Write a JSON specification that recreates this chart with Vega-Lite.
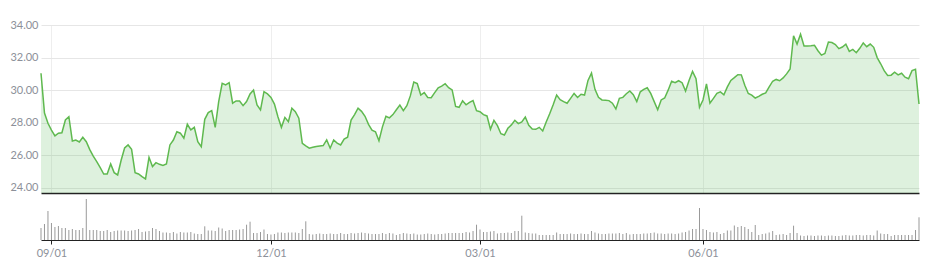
{
"$schema": "https://vega.github.io/schema/vega-lite/v6.json",
"background": "white",
"padding": {"left": 9, "top": 19, "right": 15, "bottom": 5},
"config": {"view": {"stroke": null}, "font": "Lato", "axis": {"labelFont": "Lato", "labelFontSize": 11, "labelColor": "#8c9099"}},
"spacing": 6,
"bounds": "flush",
"datasets": {"d": [
{"i":0,"p":31.04,"v":1.2},{"i":1,"p":28.6,"v":1.6},{"i":2,"p":27.97,"v":2.9},{"i":3,"p":27.55,"v":1.7},{"i":4,"p":27.2,"v":1.3},{"i":5,"p":27.36,"v":1.4},{"i":6,"p":27.39,"v":1.2},{"i":7,"p":28.17,"v":1.2},{"i":8,"p":28.37,"v":1.0},{"i":9,"p":26.88,"v":1.1},
{"i":10,"p":26.94,"v":1.0},{"i":11,"p":26.82,"v":1.0},{"i":12,"p":27.11,"v":1.2},{"i":13,"p":26.84,"v":4.1},{"i":14,"p":26.35,"v":1.0},{"i":15,"p":25.95,"v":1.0},{"i":16,"p":25.62,"v":1.0},{"i":17,"p":25.25,"v":0.9},{"i":18,"p":24.85,"v":0.9},{"i":19,"p":24.86,"v":1.0},
{"i":20,"p":25.47,"v":0.8},{"i":21,"p":24.94,"v":0.9},{"i":22,"p":24.8,"v":0.95},{"i":23,"p":25.7,"v":0.95},{"i":24,"p":26.45,"v":0.95},{"i":25,"p":26.64,"v":0.9},{"i":26,"p":26.37,"v":0.95},{"i":27,"p":24.94,"v":1.0},{"i":28,"p":24.86,"v":1.1},{"i":29,"p":24.69,"v":0.8},
{"i":30,"p":24.55,"v":0.85},{"i":31,"p":25.88,"v":0.9},{"i":32,"p":25.31,"v":1.2},{"i":33,"p":25.55,"v":1.1},{"i":34,"p":25.45,"v":0.9},{"i":35,"p":25.38,"v":0.75},{"i":36,"p":25.47,"v":0.75},{"i":37,"p":26.64,"v":0.7},{"i":38,"p":26.94,"v":0.8},{"i":39,"p":27.45,"v":0.65},
{"i":40,"p":27.36,"v":0.8},{"i":41,"p":27.05,"v":0.75},{"i":42,"p":27.91,"v":0.75},{"i":43,"p":27.56,"v":0.8},{"i":44,"p":27.72,"v":0.65},{"i":45,"p":26.84,"v":0.6},{"i":46,"p":26.53,"v":0.6},{"i":47,"p":28.21,"v":1.37},{"i":48,"p":28.62,"v":0.95},{"i":49,"p":28.74,"v":0.95},
{"i":50,"p":27.72,"v":0.9},{"i":51,"p":29.3,"v":1.25},{"i":52,"p":30.42,"v":1.15},{"i":53,"p":30.32,"v":0.9},{"i":54,"p":30.46,"v":1.0},{"i":55,"p":29.2,"v":1.0},{"i":56,"p":29.34,"v":1.0},{"i":57,"p":29.34,"v":1.05},{"i":58,"p":29.05,"v":1.1},{"i":59,"p":29.3,"v":1.53},
{"i":60,"p":29.77,"v":1.83},{"i":61,"p":30.01,"v":0.7},{"i":62,"p":29.09,"v":0.7},{"i":63,"p":28.79,"v":0.8},{"i":64,"p":29.91,"v":1.05},{"i":65,"p":29.77,"v":0.6},{"i":66,"p":29.56,"v":0.55},{"i":67,"p":29.15,"v":0.6},{"i":68,"p":28.37,"v":0.75},{"i":69,"p":27.72,"v":0.75},
{"i":70,"p":28.33,"v":0.7},{"i":71,"p":28.07,"v":0.75},{"i":72,"p":28.89,"v":0.75},{"i":73,"p":28.68,"v":0.75},{"i":74,"p":28.28,"v":0.7},{"i":75,"p":26.74,"v":1.1},{"i":76,"p":26.58,"v":1.87},{"i":77,"p":26.44,"v":0.6},{"i":78,"p":26.5,"v":0.55},{"i":79,"p":26.55,"v":0.6},
{"i":80,"p":26.58,"v":0.65},{"i":81,"p":26.6,"v":0.6},{"i":82,"p":26.95,"v":0.6},{"i":83,"p":26.44,"v":0.65},{"i":84,"p":26.94,"v":0.6},{"i":85,"p":26.75,"v":0.6},{"i":86,"p":26.64,"v":0.7},{"i":87,"p":27.0,"v":0.6},{"i":88,"p":27.11,"v":0.6},{"i":89,"p":28.17,"v":0.7},
{"i":90,"p":28.5,"v":0.65},{"i":91,"p":28.9,"v":0.7},{"i":92,"p":28.7,"v":0.75},{"i":93,"p":28.4,"v":0.7},{"i":94,"p":27.9,"v":0.65},{"i":95,"p":27.55,"v":0.6},{"i":96,"p":27.45,"v":0.6},{"i":97,"p":26.9,"v":0.6},{"i":98,"p":27.75,"v":0.7},{"i":99,"p":28.4,"v":0.6},
{"i":100,"p":28.3,"v":0.7},{"i":101,"p":28.5,"v":0.65},{"i":102,"p":28.8,"v":0.5},{"i":103,"p":29.09,"v":0.6},{"i":104,"p":28.74,"v":0.7},{"i":105,"p":29.05,"v":0.65},{"i":106,"p":29.65,"v":0.6},{"i":107,"p":30.5,"v":0.65},{"i":108,"p":30.4,"v":0.55},{"i":109,"p":29.7,"v":0.55},
{"i":110,"p":29.85,"v":0.6},{"i":111,"p":29.55,"v":0.65},{"i":112,"p":29.54,"v":0.6},{"i":113,"p":29.85,"v":0.55},{"i":114,"p":30.15,"v":0.6},{"i":115,"p":30.25,"v":0.6},{"i":116,"p":30.4,"v":0.65},{"i":117,"p":30.15,"v":0.7},{"i":118,"p":30.02,"v":0.7},{"i":119,"p":29.0,"v":0.7},
{"i":120,"p":28.95,"v":0.7},{"i":121,"p":29.35,"v":0.7},{"i":122,"p":29.1,"v":0.8},{"i":123,"p":29.25,"v":0.75},{"i":124,"p":29.36,"v":0.9},{"i":125,"p":28.74,"v":1.53},{"i":126,"p":28.68,"v":1.05},{"i":127,"p":28.5,"v":0.8},{"i":128,"p":28.42,"v":0.8},{"i":129,"p":27.6,"v":0.85},
{"i":130,"p":28.15,"v":0.9},{"i":131,"p":27.82,"v":0.65},{"i":132,"p":27.33,"v":0.7},{"i":133,"p":27.25,"v":0.7},{"i":134,"p":27.66,"v":0.75},{"i":135,"p":27.87,"v":0.7},{"i":136,"p":28.15,"v":0.9},{"i":137,"p":27.95,"v":0.9},{"i":138,"p":28.05,"v":2.43},{"i":139,"p":28.35,"v":0.75},
{"i":140,"p":27.85,"v":0.7},{"i":141,"p":27.62,"v":0.65},{"i":142,"p":27.6,"v":0.65},{"i":143,"p":27.72,"v":0.5},{"i":144,"p":27.5,"v":0.5},{"i":145,"p":28.05,"v":0.5},{"i":146,"p":28.55,"v":0.5},{"i":147,"p":29.1,"v":0.5},{"i":148,"p":29.7,"v":0.75},{"i":149,"p":29.42,"v":0.6},
{"i":150,"p":29.3,"v":0.6},{"i":151,"p":29.2,"v":0.6},{"i":152,"p":29.5,"v":0.65},{"i":153,"p":29.8,"v":0.6},{"i":154,"p":29.55,"v":0.6},{"i":155,"p":29.75,"v":0.65},{"i":156,"p":29.7,"v":0.6},{"i":157,"p":30.6,"v":0.6},{"i":158,"p":31.05,"v":0.9},{"i":159,"p":30.05,"v":0.75},
{"i":160,"p":29.56,"v":0.65},{"i":161,"p":29.4,"v":0.6},{"i":162,"p":29.38,"v":0.6},{"i":163,"p":29.36,"v":0.65},{"i":164,"p":29.2,"v":0.65},{"i":165,"p":28.85,"v":0.65},{"i":166,"p":29.5,"v":0.7},{"i":167,"p":29.56,"v":0.6},{"i":168,"p":29.78,"v":0.7},{"i":169,"p":29.95,"v":0.55},
{"i":170,"p":29.72,"v":0.6},{"i":171,"p":29.3,"v":0.6},{"i":172,"p":29.9,"v":0.6},{"i":173,"p":30.05,"v":0.65},{"i":174,"p":30.15,"v":0.65},{"i":175,"p":29.8,"v":0.7},{"i":176,"p":29.3,"v":0.75},{"i":177,"p":28.8,"v":0.65},{"i":178,"p":29.4,"v":0.65},{"i":179,"p":29.52,"v":0.6},
{"i":180,"p":30.0,"v":0.65},{"i":181,"p":30.55,"v":0.65},{"i":182,"p":30.46,"v":0.6},{"i":183,"p":30.58,"v":0.65},{"i":184,"p":30.46,"v":0.75},{"i":185,"p":29.95,"v":0.8},{"i":186,"p":30.6,"v":0.95},{"i":187,"p":31.15,"v":1.1},{"i":188,"p":30.7,"v":1.1},{"i":189,"p":28.95,"v":3.2},
{"i":190,"p":29.4,"v":1.1},{"i":191,"p":30.38,"v":1.0},{"i":192,"p":29.2,"v":0.8},{"i":193,"p":29.5,"v":0.75},{"i":194,"p":29.8,"v":0.8},{"i":195,"p":29.9,"v":0.6},{"i":196,"p":29.72,"v":0.7},{"i":197,"p":30.2,"v":0.95},{"i":198,"p":30.6,"v":0.95},{"i":199,"p":30.77,"v":1.45},
{"i":200,"p":30.95,"v":1.3},{"i":201,"p":30.94,"v":1.4},{"i":202,"p":30.3,"v":1.3},{"i":203,"p":29.8,"v":1.1},{"i":204,"p":29.7,"v":0.8},{"i":205,"p":29.52,"v":1.5},{"i":206,"p":29.62,"v":0.5},{"i":207,"p":29.75,"v":0.6},{"i":208,"p":29.83,"v":0.65},{"i":209,"p":30.2,"v":0.75},
{"i":210,"p":30.55,"v":0.9},{"i":211,"p":30.66,"v":0.5},{"i":212,"p":30.58,"v":0.55},{"i":213,"p":30.75,"v":0.6},{"i":214,"p":31.0,"v":0.5},{"i":215,"p":31.3,"v":0.7},{"i":216,"p":33.34,"v":1.43},{"i":217,"p":32.83,"v":0.7},{"i":218,"p":33.43,"v":0.45},{"i":219,"p":32.71,"v":0.4},
{"i":220,"p":32.71,"v":0.45},{"i":221,"p":32.72,"v":0.45},{"i":222,"p":32.75,"v":0.4},{"i":223,"p":32.42,"v":0.45},{"i":224,"p":32.15,"v":0.45},{"i":225,"p":32.25,"v":0.4},{"i":226,"p":32.95,"v":0.45},{"i":227,"p":32.92,"v":0.45},{"i":228,"p":32.8,"v":0.4},{"i":229,"p":32.55,"v":0.4},
{"i":230,"p":32.65,"v":0.45},{"i":231,"p":32.82,"v":0.5},{"i":232,"p":32.38,"v":0.45},{"i":233,"p":32.5,"v":0.45},{"i":234,"p":32.3,"v":0.5},{"i":235,"p":32.57,"v":0.5},{"i":236,"p":32.9,"v":0.45},{"i":237,"p":32.67,"v":0.5},{"i":238,"p":32.83,"v":0.5},{"i":239,"p":32.63,"v":0.45},
{"i":240,"p":32.0,"v":0.95},{"i":241,"p":31.62,"v":0.65},{"i":242,"p":31.2,"v":0.6},{"i":243,"p":30.9,"v":0.6},{"i":244,"p":30.92,"v":0.4},{"i":245,"p":31.1,"v":0.5},{"i":246,"p":30.94,"v":0.5},{"i":247,"p":31.04,"v":0.5},{"i":248,"p":30.8,"v":0.5},{"i":249,"p":30.7,"v":0.5},
{"i":250,"p":31.2,"v":0.5},{"i":251,"p":31.28,"v":1.0},{"i":252,"p":29.15,"v":2.27}
]},
"vconcat": [
{
"width": 878, "height": 168,
"data": {"name": "d"},
"encoding": {
"x": {"field": "i", "type": "quantitative", "scale": {"domain": [0, 252], "nice": false, "zero": false},
"axis": {"values": [3, 66, 126, 190], "labels": false, "ticks": false, "domainColor": "#222222", "domainWidth": 1.5, "grid": true, "gridColor": "#eeeeee", "title": null}},
"y": {"field": "p", "type": "quantitative", "scale": {"domain": [23.69, 34], "nice": false, "zero": false},
"axis": {"values": [24, 26, 28, 30, 32, 34], "format": ".2f", "domain": false, "ticks": false, "labelPadding": 3, "grid": true, "gridColor": "#e6e6e6", "title": null}}
},
"layer": [
{"mark": {"type": "area", "color": "#5cb85c", "opacity": 0.2, "clip": true}, "encoding": {"y2": {"datum": 23.69}}},
{"mark": {"type": "line", "color": "#5fb94f", "strokeWidth": 1.5}}
]
},
{
"width": 878, "height": 41,
"data": {"name": "d"},
"mark": {"type": "rule", "color": "#999999", "strokeWidth": 1},
"encoding": {
"x": {"field": "i", "type": "quantitative", "scale": {"domain": [0, 252], "nice": false, "zero": false},
"axis": {"values": [3, 66, 126, 190], "labelExpr": "datum.value == 3 ? '09/01' : datum.value == 66 ? '12/01' : datum.value == 126 ? '03/01' : '06/01'", "domainColor": "#222222", "tickColor": "#222222", "tickSize": 4, "labelPadding": 3, "grid": false, "title": null}},
"y": {"field": "v", "type": "quantitative", "scale": {"domain": [0, 4.1], "nice": false}, "axis": null},
"y2": {"datum": 0}
}
}
]
}
